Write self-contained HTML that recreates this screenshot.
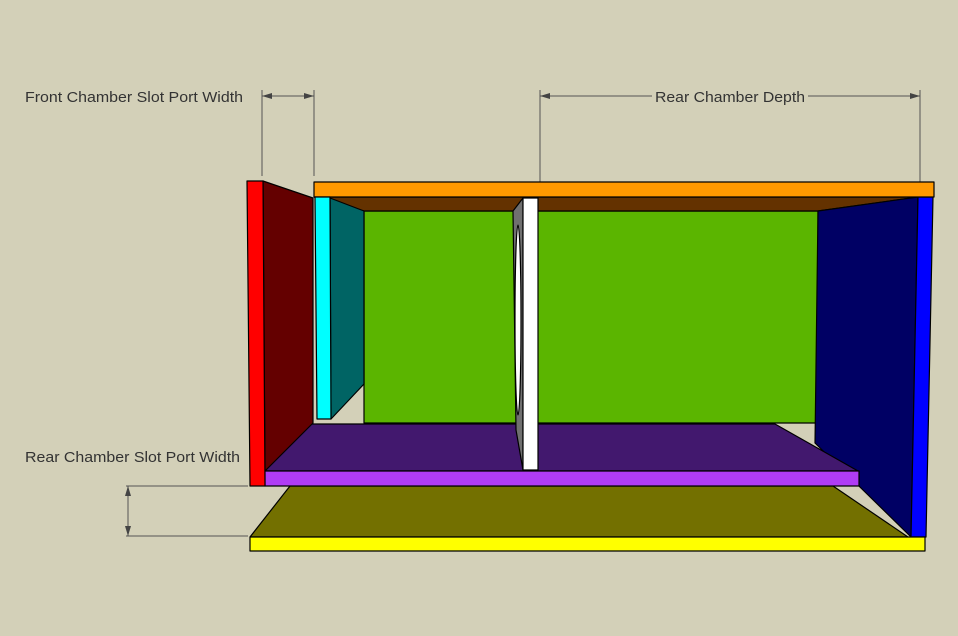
<!DOCTYPE html>
<html><head><style>
html,body{margin:0;padding:0;background:#d3d0b8;}
svg{display:block;}
text{font-family:"Liberation Sans","DejaVu Sans",sans-serif;font-size:15px;fill:#333;}
</style></head><body>
<svg width="958" height="636" viewBox="0 0 958 636" xmlns="http://www.w3.org/2000/svg">
<rect width="958" height="636" fill="#d3d0b8"/>
<g stroke="#555" stroke-width="1" fill="none">
<line x1="262" y1="90" x2="262" y2="176"/>
<line x1="314" y1="90" x2="314" y2="176"/>
<line x1="262" y1="96" x2="314" y2="96"/>
<line x1="540" y1="90" x2="540" y2="192"/>
<line x1="920" y1="90" x2="920" y2="192"/>
<line x1="540" y1="96" x2="652" y2="96"/>
<line x1="808" y1="96" x2="920" y2="96"/>
<line x1="126" y1="486" x2="248" y2="486"/>
<line x1="126" y1="536" x2="248" y2="536"/>
<line x1="128" y1="486" x2="128" y2="536"/>
</g>
<g fill="#444">
<polygon points="262,96 272,93 272,99"/><polygon points="314,96 304,93 304,99"/>
<polygon points="540,96 550,93 550,99"/><polygon points="920,96 910,93 910,99"/>
<polygon points="128,486 125,496 131,496"/><polygon points="128,536 125,526 131,526"/>
</g>
<text x="25" y="102" textLength="218" lengthAdjust="spacingAndGlyphs">Front Chamber Slot Port Width</text>
<text x="655" y="102" textLength="150" lengthAdjust="spacingAndGlyphs">Rear Chamber Depth</text>
<text x="25" y="462" textLength="215" lengthAdjust="spacingAndGlyphs">Rear Chamber Slot Port Width</text>

<g stroke="#000" stroke-width="1.2" stroke-linejoin="round">
<polygon points="290,486 833,486 908,537 250,537" fill="#737000"/>
<polygon points="364,211 818,211 818,423 364,423" fill="#5bb500"/>
<polygon points="314,197 918,197 818,211 364,211" fill="#643200"/>
<polygon points="818,211 918,197 911,537 815,443" fill="#000064"/>
<polygon points="918,197 933,197 926,537 911,537" fill="#0000ff"/>
<polygon points="314,182 934,182 934,197 314,197" fill="#ff9900"/>
<polygon points="300,424 775,424 858,471 265,471" fill="#42186e"/>
<polygon points="265,471 859,471 859,486 265,486" fill="#b03cf5"/>
<polygon points="250,537 925,537 925,551 250,551" fill="#ffff00"/>
<polygon points="263,181 313,198 313,423 265,471" fill="#640000"/>
<polygon points="247,181 263,181 265,486 250,486" fill="#ff0000"/>
<polygon points="330,198 364,211 364,384 331,419" fill="#006464"/>
<polygon points="315,197 330,197 331,419 317,419" fill="#00ffff"/>
<polygon points="513,211 523,198 523,470 516,430" fill="#707070"/>
<ellipse cx="518" cy="320" rx="3" ry="95" fill="#fff"/>
<polygon points="523,198 538,198 538,470 523,470" fill="#ffffff"/>
</g>
</svg>
</body></html>
